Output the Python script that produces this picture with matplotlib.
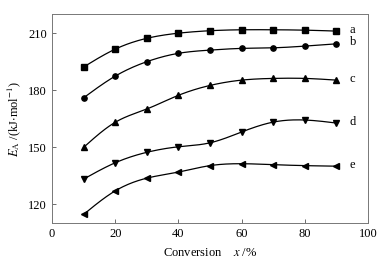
import matplotlib
matplotlib.use("Agg")
import matplotlib.pyplot as plt
import numpy as np

plt.rcParams['font.family'] = ['Liberation Serif', 'DejaVu Serif']
plt.rcParams['mathtext.fontset'] = 'stix'

conversion = np.array([10, 20, 30, 40, 50, 60, 70, 80, 90])
ea_a = [192.3, 201.7, 207.4, 210.1, 211.4, 211.9, 211.9, 211.7, 211.2]
ea_b = [176.1, 187.5, 195.1, 199.5, 201.2, 202.1, 202.4, 203.3, 204.5]
ea_c = [150.0, 163.2, 170.2, 177.4, 182.6, 185.4, 186.3, 186.3, 185.4]
ea_d = [133.3, 141.9, 147.4, 150.3, 152.4, 158.1, 163.3, 164.4, 162.8]
ea_e = [114.7, 127.1, 133.8, 137.0, 140.4, 141.4, 140.9, 140.4, 140.1]
names = ['a', 'b', 'c', 'd', 'e']
markers = ['s', 'o', '^', 'v', '<']


def spline(x, y, n=200):
    # natural cubic spline, just for a smooth line through the points
    x = np.asarray(x, float)
    y = np.asarray(y, float)
    h = np.diff(x)
    k = len(x)
    A = np.zeros((k, k))
    r = np.zeros(k)
    A[0, 0] = A[-1, -1] = 1
    for i in range(1, k - 1):
        A[i, i - 1] = h[i - 1]
        A[i, i] = 2 * (h[i - 1] + h[i])
        A[i, i + 1] = h[i]
        r[i] = 6 * ((y[i + 1] - y[i]) / h[i] - (y[i] - y[i - 1]) / h[i - 1])
    m = np.linalg.solve(A, r)
    xs = np.linspace(x[0], x[-1], n)
    j = np.clip(np.searchsorted(x, xs) - 1, 0, k - 2)
    t = xs - x[j]
    hj = h[j]
    a = (m[j + 1] - m[j]) / (6 * hj)
    b = m[j] / 2
    c = (y[j + 1] - y[j]) / hj - hj * (2 * m[j] + m[j + 1]) / 6
    return xs, y[j] + c * t + b * t ** 2 + a * t ** 3


fig = plt.figure(figsize=(3.92, 2.66), dpi=100)
ax = fig.add_axes([52 / 392, 43 / 266, 316 / 392, 209 / 266])

for ys, name, mk in zip([ea_a, ea_b, ea_c, ea_d, ea_e], names, markers):
    xs, ys_s = spline(conversion, ys)
    ax.plot(xs, ys_s, color='black', lw=0.9)
    ax.plot(conversion, ys, linestyle='none', marker=mk, color='black', ms=3.8)
    ax.text(94.3, ys[-1] + (0.7 if name != 'd' else 0.5), name, fontsize=9, va='center', ha='left')

ax.set_xlim(0, 100)
ax.set_ylim(110.2, 220.2)
ax.set_xticks([0, 20, 40, 60, 80, 100])
ax.set_yticks([120, 150, 180, 210])
ax.tick_params(direction='in', length=3, width=0.6, labelsize=9, color='#555555')
for s in ax.spines.values():
    s.set_color('#777777')
    s.set_linewidth(0.7)
ax.set_xlabel('Conversion    $x$ /%', fontsize=9, labelpad=5)
ax.set_ylabel('$E_{\\mathrm{A}}$ /(kJ$\\cdot$mol$^{-1}$)', fontsize=9, labelpad=4)

fig.savefig('out.png', dpi=100)
